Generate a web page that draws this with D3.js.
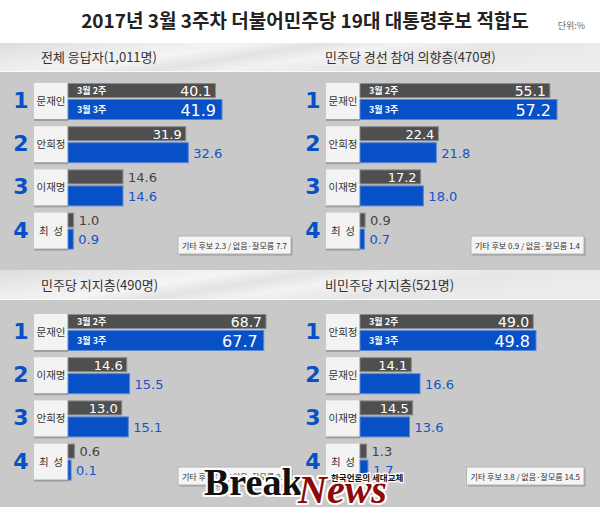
<!DOCTYPE html>
<html><head><meta charset="utf-8">
<script src="https://cdn.jsdelivr.net/npm/d3@7"></script>
<style>
html,body{margin:0;padding:0;background:#fff;}
svg{display:block;}
</style></head>
<body>
<svg id="chart" width="600" height="507"></svg>
<script>
// ---------- data ----------
const chartTitle = "2017년 3월 3주차 더불어민주당 19대 대통령후보 적합도";
const unitLabel = "단위:%";
const periods = ["3월 2주", "3월 3주"];
const panelTitles = ["전체 응답자(1,011명)", "민주당 경선 참여 의향층(470명)", "민주당 지지층(490명)", "비민주당 지지층(521명)"];
const ranks = ["1", "2", "3", "4"];
const candidates1 = ["문재인", "안희정", "이재명", "최 성"];
const candidates2 = ["문재인", "안희정", "이재명", "최 성"];
const candidates3 = ["문재인", "이재명", "안희정", "최 성"];
const candidates4 = ["안희정", "문재인", "이재명", "최 성"];
const week2_1 = [40.1, 31.9, 14.6, 1.0];
const week3_1 = [41.9, 32.6, 14.6, 0.9];
const week2_2 = [55.1, 22.4, 17.2, 0.9];
const week3_2 = [57.2, 21.8, 18.0, 0.7];
const week2_3 = [68.7, 14.6, 13.0, 0.6];
const week3_3 = [67.7, 15.5, 15.1, 0.1];
const week2_4 = [49.0, 14.1, 14.5, 1.3];
const week3_4 = [49.8, 16.6, 13.6, 1.7];
const notes = ["기타 후보 2.3 / 없음·잘모름 7.7", "기타 후보 0.9 / 없음·잘모름 1.4", "기타 후보 0.9 / 없음·잘모름 0.7", "기타 후보 3.8 / 없음·잘모름 14.5"];

// ---------- layout (styles) ----------
const panels = [
  {cands: candidates1, w2: week2_1, w3: week3_1, grayIn: [1,1,0,0], col: 0, row: 0, maxLen: 154, exp: 1},
  {cands: candidates2, w2: week2_2, w3: week3_2, grayIn: [1,1,1,0], col: 1, row: 0, maxLen: 197, exp: 1},
  {cands: candidates3, w2: week2_3, w3: week3_3, grayIn: [1,1,1,0], col: 0, row: 1, maxLen: 198, exp: 0.8},
  {cands: candidates4, w2: week2_4, w3: week3_4, grayIn: [1,1,1,0], col: 1, row: 1, maxLen: 176, exp: 1}
];
const KR = "'Noto Sans CJK KR', 'Noto Sans', sans-serif";
const NUM = "'DejaVu Sans', Verdana, sans-serif";
const GRAY = "#4f4f4f", BLUE = "#0750c6", BLUETXT = "#1553c6";
const colX = [0, 292];
const noteRight = [291, 584];
const rowY = [0, 231];
const bands = [[43, 71], [270, 299]];
const headX = [41, 325];

const svg = d3.select("#chart");
const defs = svg.append("defs");
const g1 = defs.append("linearGradient").attr("id", "band").attr("x1", "0").attr("x2", "1").attr("y1", "0").attr("y2", "0.3");
[[0, "#dcdcdc"], [0.2, "#ebebeb"], [0.38, "#f4f4f4"], [0.5, "#e3e3e3"], [0.62, "#f2f2f2"], [0.8, "#e6e6e6"], [1, "#ececec"]]
  .forEach(([o, c]) => g1.append("stop").attr("offset", o).attr("stop-color", c));

// backgrounds
svg.append("rect").attr("x", 0).attr("y", 0).attr("width", 600).attr("height", 507).attr("fill", "#fff");
svg.append("rect").attr("x", 0).attr("y", 72).attr("width", 600).attr("height", 198).attr("fill", "#c9c9c9");
svg.append("rect").attr("x", 0).attr("y", 300).attr("width", 600).attr("height", 207).attr("fill", "#c9c9c9");
bands.forEach(([a, b]) => {
  svg.append("rect").attr("x", 0).attr("y", a).attr("width", 600).attr("height", b - a).attr("fill", "url(#band)");
  svg.append("rect").attr("x", 0).attr("y", b).attr("width", 600).attr("height", 1).attr("fill", "#fafafa");
});

// title
svg.append("text").attr("x", 305).attr("y", 28).attr("text-anchor", "middle")
  .attr("font-family", KR).attr("font-size", 19).attr("font-weight", 600).attr("fill", "#222")
  .text(chartTitle);
svg.append("text").attr("x", 585).attr("y", 29).attr("text-anchor", "end")
  .attr("font-family", KR).attr("font-size", 9).attr("fill", "#666").text(unitLabel);

panels.forEach((p, pi) => {
  const ox = colX[p.col], oy = rowY[p.row];
  const barX = 68 + ox;
  const top0 = 83 + oy;
  const maxV = d3.max(p.w2.concat(p.w3));
  const x = d3.scalePow().exponent(p.exp).domain([0, maxV]).range([2, p.maxLen]);
  const y = d3.scaleBand().domain(d3.range(4)).range([top0, top0 + 4 * 43.2]).paddingInner(0).paddingOuter(0);

  svg.append("text").attr("x", headX[p.col]).attr("y", (bands[p.row][0] + bands[p.row][1]) / 2 + 5)
    .attr("font-family", KR).attr("font-size", 13).attr("fill", "#333").text(panelTitles[pi]);

  const g = svg.append("g");
  p.cands.forEach((name, i) => {
    const t = y(i);
    // rank digit
    g.append("text").attr("x", 21 + ox).attr("y", t + 25).attr("text-anchor", "middle")
      .attr("font-family", NUM).attr("font-weight", "bold").attr("font-size", 22).attr("fill", BLUE)
      .text(ranks[i]);
    // name box
    g.append("rect").attr("x", 34 + ox).attr("y", t + 2).attr("width", 34).attr("height", 36).attr("fill", "#8c8c8c").attr("opacity", 0.7);
    g.append("rect").attr("x", 34 + ox).attr("y", t).attr("width", 34).attr("height", 36).attr("fill", "#f3f3f3");
    g.append("text").attr("x", 51 + ox).attr("y", t + 22).attr("text-anchor", "middle")
      .attr("font-family", KR).attr("font-size", 10.5).attr("fill", "#333")
      .style("white-space", "pre").text(name.replace(" ", "  "));
    // bars
    const w2 = x(p.w2[i]), w3 = x(p.w3[i]);
    g.append("rect").attr("x", barX).attr("y", t + 0.5).attr("width", w2).attr("height", 14)
      .attr("fill", GRAY).attr("stroke", "#8a8a8a").attr("stroke-width", 1);
    g.append("rect").attr("x", barX).attr("y", t + 16.5).attr("width", w3).attr("height", 20)
      .attr("fill", BLUE).attr("stroke", "#5b86d6").attr("stroke-width", 1);
    // labels
    if (i === 0) {
      g.append("text").attr("x", barX + 9).attr("y", t + 11).attr("font-family", KR).attr("font-weight", "bold")
        .attr("font-size", 9).attr("fill", "#fff").text(periods[0]);
      g.append("text").attr("x", barX + 9).attr("y", t + 30).attr("font-family", KR).attr("font-weight", "bold")
        .attr("font-size", 9).attr("fill", "#fff").text(periods[1]);
    }
    const f2 = i === 0 ? 14 : 13;
    if (p.grayIn[i]) {
      g.append("text").attr("x", barX + w2 - 4).attr("y", t + 12.5).attr("text-anchor", "end")
        .attr("font-family", NUM).attr("font-size", f2).attr("fill", "#fff").text(p.w2[i].toFixed(1));
    } else {
      g.append("text").attr("x", barX + w2 + 5).attr("y", t + 12.5)
        .attr("font-family", NUM).attr("font-size", 13).attr("fill", "#444").text(p.w2[i].toFixed(1));
    }
    if (i === 0) {
      g.append("text").attr("x", barX + w3 - 6).attr("y", t + 32.5).attr("text-anchor", "end")
        .attr("font-family", NUM).attr("font-size", 16).attr("fill", "#fff").text(p.w3[i].toFixed(1));
    } else {
      g.append("text").attr("x", barX + w3 + 5).attr("y", t + 31.5)
        .attr("font-family", NUM).attr("font-size", 13).attr("fill", BLUETXT).text(p.w3[i].toFixed(1));
    }
  });

  // note box
  const ng = svg.append("g");
  const ny = 236 + oy;
  const nt = ng.append("text").attr("y", ny + 12.5).attr("font-family", KR).attr("font-size", 8).attr("fill", "#333").text(notes[pi]);
  const tw = nt.node().getComputedTextLength();
  const bx = noteRight[p.col] - tw - 8;
  nt.attr("x", bx + 4);
  ng.insert("rect", "text").attr("x", bx + 1.5).attr("y", ny + 1.5).attr("width", tw + 8).attr("height", 18).attr("fill", "#9a9a9a");
  ng.insert("rect", "text").attr("x", bx).attr("y", ny).attr("width", tw + 8).attr("height", 18).attr("fill", "#f5f5f5").attr("stroke", "#b5b5b5");
});

// logo
const logo = svg.append("g");
logo.append("text").attr("x", 204).attr("y", 495).attr("font-family", "'Liberation Serif', serif").attr("font-weight", "bold")
  .attr("font-size", 38).attr("fill", "#111").attr("stroke", "#fff").attr("stroke-width", 4).attr("paint-order", "stroke")
  .attr("stroke-linejoin", "round").text("Break");
logo.append("text").attr("x", 298).attr("y", 503).attr("font-family", "'Liberation Serif', serif").attr("font-weight", "bold")
  .attr("font-style", "italic").attr("font-size", 40).attr("fill", "#8c0a0a").attr("stroke", "#fff").attr("stroke-width", 4)
  .attr("paint-order", "stroke").attr("stroke-linejoin", "round").text("News");
logo.append("text").attr("x", 331).attr("y", 481).attr("font-family", KR).attr("font-weight", "bold")
  .attr("font-size", 8.5).attr("fill", "#111").attr("stroke", "#fff").attr("stroke-width", 2.5).attr("paint-order", "stroke")
  .text("한국언론의 세대교체");
</script>
</body></html>
